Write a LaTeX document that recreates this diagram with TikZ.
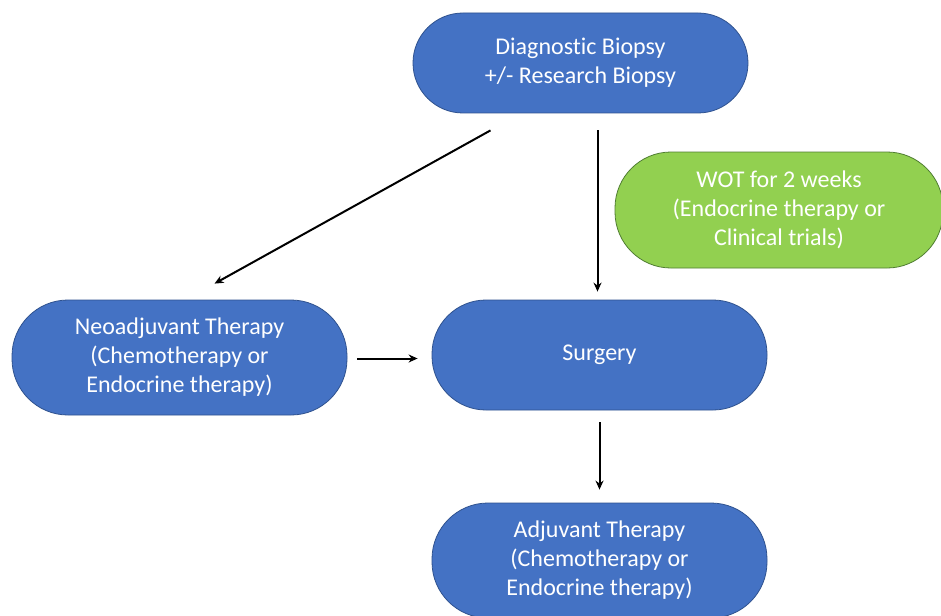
\documentclass[tikz,border=0pt]{standalone}
\usepackage{fontspec}
\setmainfont[Ligatures=NoCommon]{Carlito}
\usetikzlibrary{arrows.meta}
\definecolor{boxblue}{HTML}{4472C4}
\definecolor{boxblueline}{HTML}{2F528F}
\definecolor{boxgreen}{HTML}{92D050}
\definecolor{boxgreenline}{HTML}{507E32}
\tikzset{
  pill/.style={draw=boxblueline, fill=boxblue, line width=0.8pt, text=white,
    align=center, minimum width=335pt, inner sep=0pt,
    font=\fontsize{24}{29}\selectfont},
  greenpill/.style={pill, draw=boxgreenline, fill=boxgreen},
  arr/.style={-{Stealth[length=9pt,width=8pt]}, line width=2pt, black},
}
\begin{document}
\begin{tikzpicture}[x=1pt,y=1pt]
\useasboundingbox (0,0) rectangle (941,-615);
\fill[white] (0,0) rectangle (941,-615);
\node[pill, minimum height=100pt, rounded corners=50pt] (top) at (580.5,-63) {Diagnostic Biopsy\\+/- Research Biopsy};
\node[greenpill, minimum width=328pt, minimum height=116pt, rounded corners=56pt] (wot) at (779,-210) {WOT for 2 weeks\\(Endocrine therapy or\\Clinical trials)};
\node[pill, minimum height=115pt, rounded corners=56pt] (neo) at (179.5,-357.5) {Neoadjuvant Therapy\\(Chemotherapy or\\Endocrine therapy)};
\node[pill, minimum height=110pt, rounded corners=54pt] (surg) at (599.5,-355) {Surgery};
\node[pill, minimum height=115pt, rounded corners=56pt] (adj) at (599.5,-560.5) {Adjuvant Therapy\\(Chemotherapy or\\Endocrine therapy)};
\draw[arr] ([xshift=-90pt,yshift=-17pt]top.south) -- ([xshift=35pt,yshift=16pt]neo.north);
\draw[arr] ([xshift=-2pt,yshift=-17pt]top.south -| surg.north) -- ([xshift=-2pt,yshift=8pt]surg.north);
\draw[arr] ([xshift=10pt,yshift=-1pt]neo.east) -- ([xshift=-14pt,yshift=-1pt]surg.west |- neo.east);
\draw[arr] ([yshift=-12pt]surg.south) -- ([yshift=13pt]adj.north);
\end{tikzpicture}
\end{document}
